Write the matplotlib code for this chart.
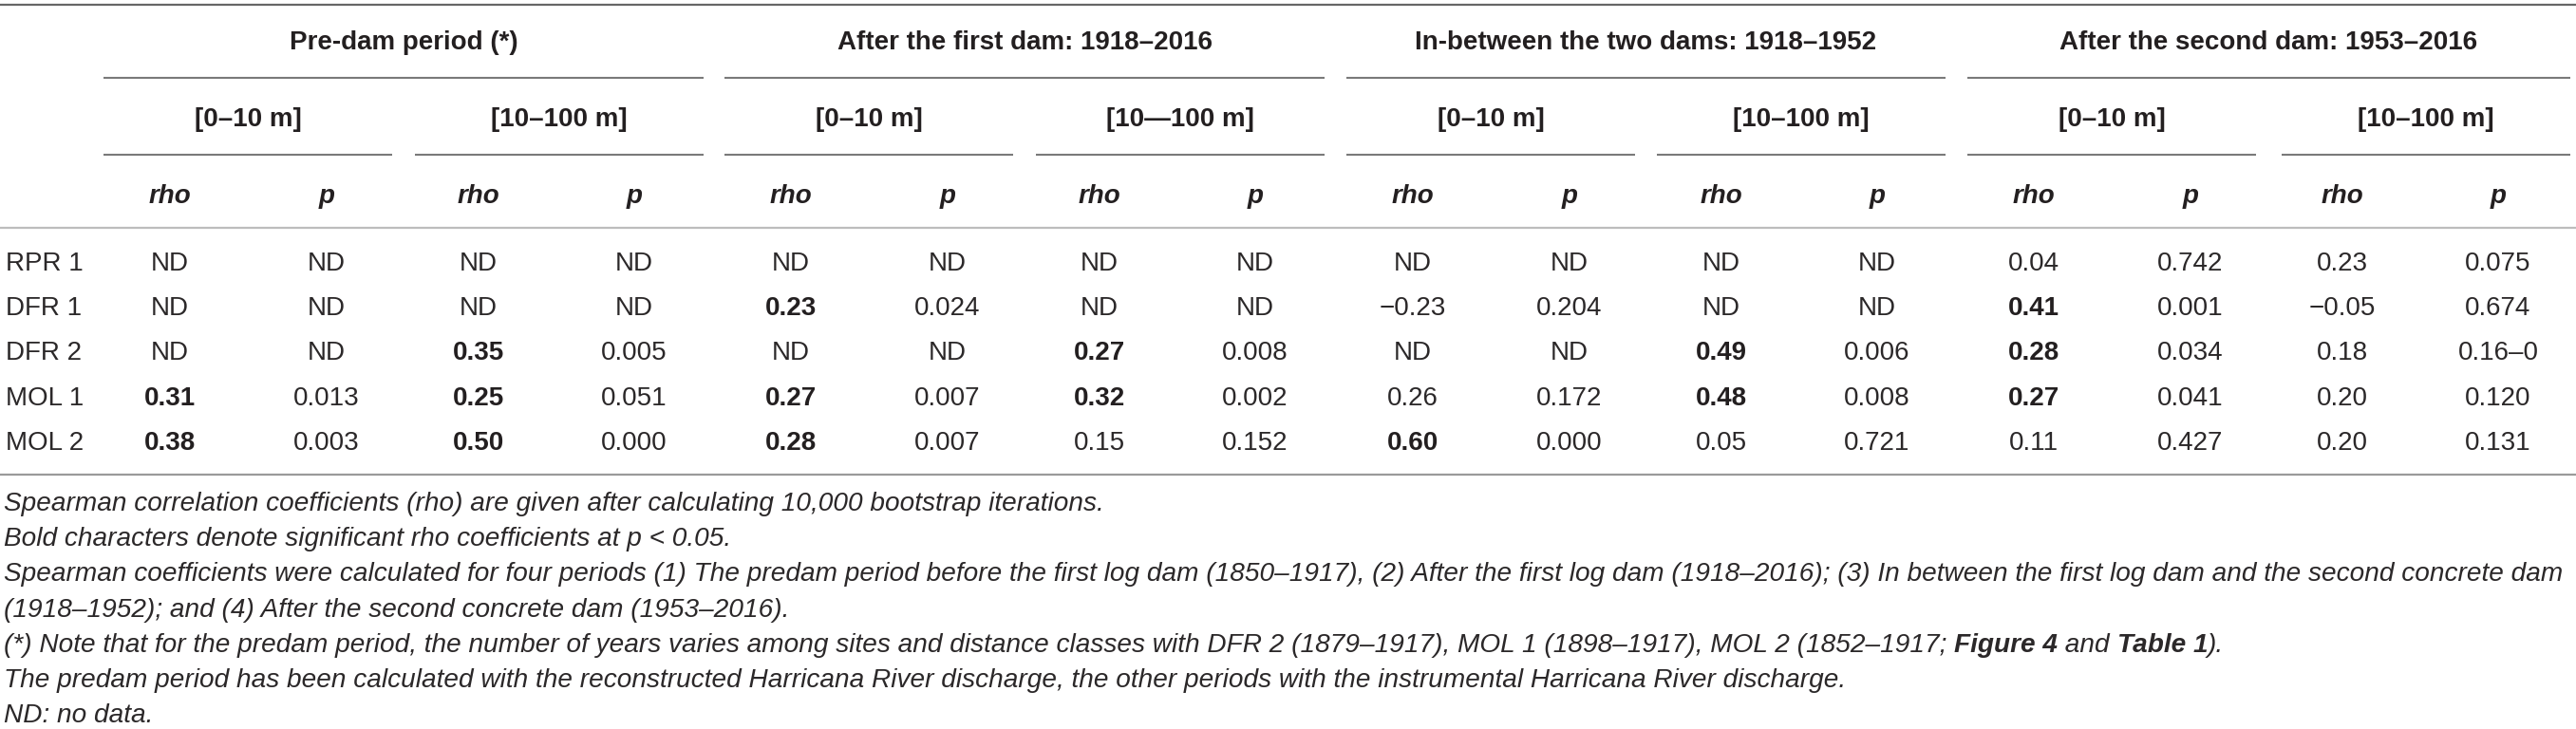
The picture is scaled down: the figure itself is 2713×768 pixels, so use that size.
import matplotlib
matplotlib.use("Agg")
import matplotlib.pyplot as plt

plt.rcParams['font.family'] = ['Liberation Sans', 'DejaVu Sans']

# ---------------- data ----------------
sites = ["RPR 1", "DFR 1", "DFR 2", "MOL 1", "MOL 2"]
periods = ["Pre-dam period (*)", "After the first dam: 1918\u20132016",
           "In-between the two dams: 1918\u20131952", "After the second dam: 1953\u20132016"]
distance_classes = [["[0\u201310 m]", "[10\u2013100 m]"],
                    ["[0\u201310 m]", "[10\u2014100 m]"],
                    ["[0\u201310 m]", "[10\u2013100 m]"],
                    ["[0\u201310 m]", "[10\u2013100 m]"]]
stat_labels = ["rho", "p"]

predam = [["ND", "ND", "ND", "ND"],
          ["ND", "ND", "ND", "ND"],
          ["ND", "ND", "0.35", "0.005"],
          ["0.31", "0.013", "0.25", "0.051"],
          ["0.38", "0.003", "0.50", "0.000"]]
after_first = [["ND", "ND", "ND", "ND"],
               ["0.23", "0.024", "ND", "ND"],
               ["ND", "ND", "0.27", "0.008"],
               ["0.27", "0.007", "0.32", "0.002"],
               ["0.28", "0.007", "0.15", "0.152"]]
in_between = [["ND", "ND", "ND", "ND"],
              ["\u22120.23", "0.204", "ND", "ND"],
              ["ND", "ND", "0.49", "0.006"],
              ["0.26", "0.172", "0.48", "0.008"],
              ["0.60", "0.000", "0.05", "0.721"]]
after_second = [["0.04", "0.742", "0.23", "0.075"],
                ["0.41", "0.001", "\u22120.05", "0.674"],
                ["0.28", "0.034", "0.18", "0.16\u20130"],
                ["0.27", "0.041", "0.20", "0.120"],
                ["0.11", "0.427", "0.20", "0.131"]]
period_values = [predam, after_first, in_between, after_second]

# significant rho (bold): (period index, row index, column index within period)
bold_cells = [(0, 2, 2), (0, 3, 0), (0, 3, 2), (0, 4, 0), (0, 4, 2),
              (1, 1, 0), (1, 2, 2), (1, 3, 0), (1, 3, 2), (1, 4, 0),
              (2, 2, 2), (2, 3, 2), (2, 4, 0),
              (3, 1, 0), (3, 2, 0), (3, 3, 0)]

footnotes = [
    [("Spearman correlation coefficients (rho) are given after calculating 10,000 bootstrap iterations.", "normal")],
    [("Bold characters denote significant rho coefficients at p < 0.05.", "normal")],
    [("Spearman coefficients were calculated for four periods (1) The predam period before the first log dam (1850\u20131917), (2) After the first log dam (1918\u20132016); (3) In between the first log dam and the second concrete dam", "normal")],
    [("(1918\u20131952); and (4) After the second concrete dam (1953\u20132016).", "normal")],
    [("(*) Note that for the predam period, the number of years varies among sites and distance classes with DFR 2 (1879\u20131917), MOL 1 (1898\u20131917), MOL 2 (1852\u20131917; ", "normal"),
     ("Figure 4", "bold"), (" and ", "normal"), ("Table 1", "bold"), (").", "normal")],
    [("The predam period has been calculated with the reconstructed Harricana River discharge, the other periods with the instrumental Harricana River discharge.", "normal")],
    [("ND: no data.", "normal")],
]

# ---------------- layout ----------------
W, H = 2713, 768
fig = plt.figure(figsize=(W / 100, H / 100), dpi=100)
ax = fig.add_axes([0, 0, 1, 1])
ax.set_xlim(0, W)
ax.set_ylim(H, 0)
ax.axis('off')

FS = 20
FS_FOOT = 20.2
TXT = '#2b2829'
HDR = '#231f20'
period_start = [109, 763, 1418, 2072]
period_width = [632, 632, 631, 635]
sub_w = 304
col_off = [70, 235, 395, 559]

def hline(y, x0, x1, color='#7a7a7a', lw=1.5):
    ax.plot([x0, x1], [y, y], color=color, lw=lw, solid_capstyle='butt')

# rules
hline(5, 0, W, '#666666', 1.6)
hline(240, 0, W, '#bdbdbd', 1.6)
hline(500, 0, W, '#9a9a9a', 1.6)

for i, ptitle in enumerate(periods):
    x0 = period_start[i]
    x1 = x0 + period_width[i]
    hline(82, x0, x1)
    ax.text((x0 + x1) / 2, 52, ptitle, ha='center', va='baseline',
            fontsize=FS, fontweight='bold', color=HDR)
    for j in range(2):
        s0 = x0 + j * (period_width[i] - sub_w)
        hline(163, s0, s0 + sub_w)
        ax.text(s0 + sub_w / 2, 133, distance_classes[i][j], ha='center',
                va='baseline', fontsize=FS, fontweight='bold', color=HDR)
    for k in range(4):
        ax.text(x0 + col_off[k], 214, stat_labels[k % 2], ha='center',
                va='baseline', fontsize=FS, fontweight='bold',
                fontstyle='italic', color=HDR)

row_base = [285, 332, 379, 427, 474]
for r, site in enumerate(sites):
    ax.text(6, row_base[r], site, ha='left', va='baseline', fontsize=FS, color=TXT)
    for i, vals in enumerate(period_values):
        for k in range(4):
            bold = (i, r, k) in bold_cells
            ax.text(period_start[i] + col_off[k], row_base[r], vals[r][k],
                    ha='center', va='baseline', fontsize=FS,
                    fontweight='bold' if bold else 'normal',
                    color=HDR if bold else TXT)

# footnotes (italic, mixed weights)
fig.canvas.draw()
renderer = fig.canvas.get_renderer()
foot_base = [538, 575, 612, 650, 687, 724, 761]
for n, pieces in enumerate(footnotes):
    x = 4
    for text, weight in pieces:
        t = ax.text(x, foot_base[n], text, ha='left', va='baseline', fontsize=FS_FOOT,
                    fontstyle='italic', fontweight=weight, color=TXT)
        bb = t.get_window_extent(renderer=renderer)
        x += bb.width

fig.savefig('out.png', dpi=100)
